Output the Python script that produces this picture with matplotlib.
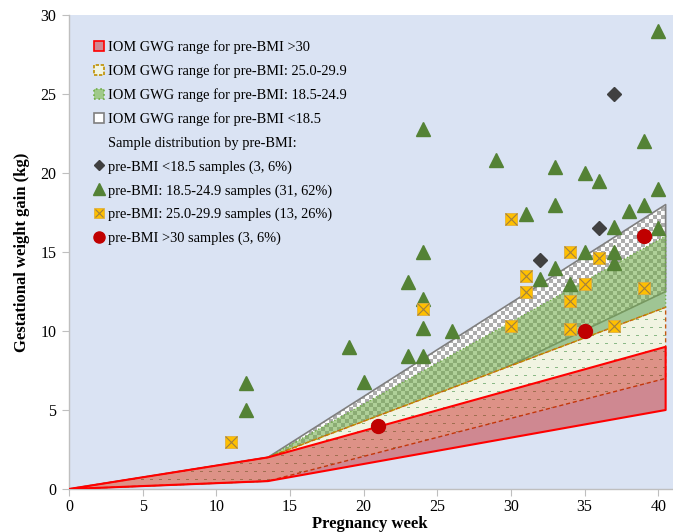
import numpy as np
import matplotlib
matplotlib.use("Agg")
import matplotlib.pyplot as plt
from matplotlib.patches import Patch
from matplotlib.lines import Line2D

plt.rcParams['font.family'] = ['Liberation Serif', 'DejaVu Serif']

# ---------------- data ----------------
# IOM GWG ranges (weeks -> kg), lower/upper bounds
band_weeks = [0, 13.5, 40.5]
iom_lt185_low = [0, 0.5, 12.5]
iom_lt185_high = [0, 2.0, 18.0]
iom_185_249_low = [0, 0.5, 11.5]
iom_185_249_high = [0, 2.0, 16.0]
iom_250_299_low = [0, 0.5, 7.0]
iom_250_299_high = [0, 2.0, 11.5]
iom_gt30_low = [0, 0.5, 5.0]
iom_gt30_high = [0, 2.0, 9.0]

# samples
lt185_week = [32, 36, 37]
lt185_gain = [14.5, 16.5, 25.0]

normal_week = [12, 12, 19, 20, 23, 23, 24, 24, 24, 24, 24, 26, 29, 31, 32, 33, 33, 33,
               34, 35, 35, 36, 37, 37, 37, 38, 39, 39, 40, 40, 40]
normal_gain = [6.7, 5.0, 9.0, 6.8, 13.1, 8.4, 22.8, 15.0, 12.0, 10.2, 8.4, 10.0, 20.8, 17.4,
               13.3, 20.4, 18.0, 14.0, 13.0, 20.0, 15.0, 19.5, 16.6, 15.0, 14.3, 17.6, 22.0,
               18.0, 29.0, 19.0, 16.5]

over_week = [11, 24, 30, 30, 31, 31, 34, 34, 34, 35, 36, 37, 39]
over_gain = [3.0, 11.4, 17.1, 10.3, 13.5, 12.5, 15.0, 11.9, 10.1, 13.0, 14.6, 10.3, 12.7]

obese_week = [21, 35, 39]
obese_gain = [4.0, 10.0, 16.0]

xticks = [0, 5, 10, 15, 20, 25, 30, 35, 40]
yticks = [0, 5, 10, 15, 20, 25, 30]

band_labels = ["IOM GWG range for pre-BMI >30",
               "IOM GWG range for pre-BMI: 25.0-29.9",
               "IOM GWG range for pre-BMI: 18.5-24.9",
               "IOM GWG range for pre-BMI <18.5"]
header_label = "Sample distribution by pre-BMI:"
sample_labels = ["pre-BMI <18.5 samples (3, 6%)",
                 "pre-BMI: 18.5-24.9 samples (31, 62%)",
                 "pre-BMI: 25.0-29.9 samples (13, 26%)",
                 "pre-BMI >30 samples (3, 6%)"]
xlabel = "Pregnancy week"
ylabel = "Gestational weight gain (kg)"

# ---------------- figure ----------------
W, H, DPI = 673, 532, 100
fig = plt.figure(figsize=(W / DPI, H / DPI), dpi=DPI)
ax_l, ax_r, ax_b, ax_t = 69, 673, 489, 15
ax = fig.add_axes([ax_l / W, 1 - ax_b / H, (ax_r - ax_l) / W, (ax_b - ax_t) / H])
bg = '#DAE3F3'
ax.set_facecolor(bg)
XMAX, YMAX = 41, 30

pw, ph = ax_r - ax_l, ax_b - ax_t
yy, xx = np.mgrid[0:ph, 0:pw]

# checker texture (gray band)
checker = np.ones((ph, pw, 4))
cell = 4
mask = ((xx // cell) + (yy // cell)) % 2 == 0
checker[mask, :3] = np.array([172, 172, 172]) / 255
checker[~mask, :3] = np.array([252, 252, 252]) / 255

# dash texture (yellow band)
dash = np.ones((ph, pw, 4))
dash[..., :3] = np.array([241, 244, 226]) / 255
row = yy % 8 == 0
off = np.where((yy // 8) % 2 == 0, 0, 4)
dmask = row & (((xx + off) % 9) < 3)
dash[dmask, :3] = np.array([140, 185, 135]) / 255


def textured(low, high, tex, z):
    poly = ax.fill_between(band_weeks, low, high, facecolor='none', edgecolor='none', zorder=z)
    im = ax.imshow(tex, extent=(0, XMAX, 0, YMAX), origin='upper', aspect='auto',
                   interpolation='nearest', zorder=z)
    im.set_clip_path(poly.get_paths()[0], transform=ax.transData)
    return poly


# gray band (<18.5)
textured(iom_lt185_low, iom_lt185_high, checker, 1)
ax.fill_between(band_weeks, iom_lt185_low, iom_lt185_high, facecolor='none',
                edgecolor='#7F7F7F', linewidth=1.2, zorder=1.5)

# green band (18.5-24.9)
ax.fill_between(band_weeks, iom_185_249_low, iom_185_249_high, facecolor='#70AD47',
                alpha=0.55, edgecolor='none', zorder=2)
ax.fill_between(band_weeks, iom_185_249_low, iom_185_249_high, facecolor='none',
                edgecolor='#70AD47', linewidth=1.0, linestyle=':', zorder=2.5)

# yellow band (25.0-29.9)
textured(iom_250_299_low, iom_250_299_high, dash, 3)
ax.fill_between(band_weeks, iom_250_299_low, iom_250_299_high, facecolor='none',
                edgecolor='#C55A11', linewidth=1.0, linestyle=(0, (3, 2)), zorder=3.6)
ax.plot(band_weeks[1:], iom_250_299_high[1:], color='#BF9000', linewidth=1.0,
        linestyle=(0, (3, 2)), zorder=3.7)

# red band (>30)
ax.fill_between(band_weeks, iom_gt30_low, iom_gt30_high, facecolor='#C00000',
                alpha=0.4, edgecolor='none', zorder=4)
ax.fill_between(band_weeks, iom_gt30_low, iom_gt30_high, facecolor='none',
                edgecolor='#FF0000', linewidth=1.5, zorder=4.5)

# samples
ax.plot(lt185_week, lt185_gain, linestyle='none', marker='D', ms=7, color='#404040', zorder=10)
ax.plot(normal_week, normal_gain, linestyle='none', marker='^', ms=10.5, color='#548235', zorder=10)
ax.plot(over_week, over_gain, linestyle='none', marker='s', ms=9, markerfacecolor='#FFC000',
        markeredgecolor='#E0B040', markeredgewidth=0.6, zorder=10)
ax.plot(over_week, over_gain, linestyle='none', marker='x', ms=8, color='#A08040',
        markeredgewidth=0.8, zorder=10.5)
ax.plot(obese_week, obese_gain, linestyle='none', marker='o', ms=10, color='#C00000', zorder=10)

ax.set_xlim(0, XMAX)
ax.set_ylim(0, YMAX)
ax.set_xticks(xticks)
ax.set_yticks(yticks)
ax.tick_params(axis='both', direction='out', length=5, color='#BFBFBF', labelsize=11.5,
               labelcolor='black')
ax.tick_params(axis='x', pad=2)
ax.tick_params(axis='y', pad=4)
for s in ['top', 'right']:
    ax.spines[s].set_visible(False)
for s in ['left', 'bottom']:
    ax.spines[s].set_color('#BFBFBF')
    ax.spines[s].set_linewidth(1.0)

fig.text(370 / W, 1 - 524 / H, xlabel, ha='center', va='center', fontsize=12, fontweight='bold')
fig.text(22 / W, 1 - 252 / H, ylabel, ha='center', va='center', rotation=90, fontsize=12,
         fontweight='bold')

# legend
handles = [
    Patch(facecolor='#D08892', edgecolor='#FF0000', linewidth=1.2),
    Patch(facecolor='#F1F4E2', edgecolor='#BF9000', linewidth=1.2, linestyle=(0, (2, 1))),
    Patch(facecolor='#9FC98A', edgecolor='#70AD47', linewidth=1.2, linestyle=':'),
    Patch(facecolor='white', edgecolor='#7F7F7F', linewidth=1.2),
    Patch(facecolor='none', edgecolor='none'),
    Line2D([], [], linestyle='none', marker='D', ms=5, color='#404040'),
    Line2D([], [], linestyle='none', marker='^', ms=8, color='#548235'),
    (Line2D([], [], linestyle='none', marker='s', ms=7, markerfacecolor='#FFC000',
            markeredgecolor='#E0B040', markeredgewidth=0.6),
     Line2D([], [], linestyle='none', marker='x', ms=6, color='#A08040', markeredgewidth=0.8)),
    Line2D([], [], linestyle='none', marker='o', ms=8, color='#C00000'),
]
labels = band_labels + [header_label] + sample_labels
leg = ax.legend(handles, labels, loc='upper left', bbox_to_anchor=(94 / W, 1 - 40 / H),
                bbox_transform=fig.transFigure, frameon=False, fontsize=10.4,
                handlelength=0.7, handleheight=0.7, handletextpad=0.3, labelspacing=0.72,
                borderpad=0, borderaxespad=0)

fig.savefig('out.png', dpi=DPI)
